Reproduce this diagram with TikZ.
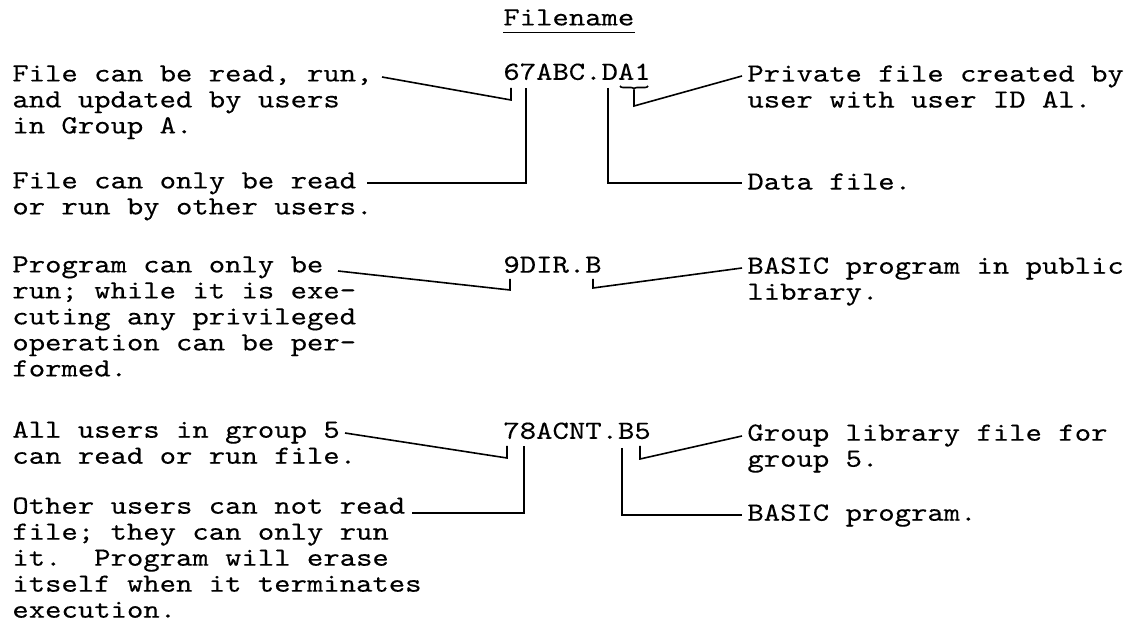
\documentclass[tikz,border=0pt]{standalone}
\usepackage{fontspec}
\usetikzlibrary{decorations.pathreplacing}
\newfontfamily\typer{lmmono10-regular.otf}[FakeStretch=1.19, FakeBold=0.25]
\tikzstyle{note}=[inner sep=0pt, anchor=north west, align=left, font={\typer\fontsize{13.1pt}{13pt}\selectfont\frenchspacing}]
\tikzstyle{lead}=[line width=0.8pt]
\newcommand{\note}{\node[note]}

\begin{document}
\begin{tikzpicture}[x=0.5pt, y=-0.5pt]
\useasboundingbox[fill=white] (0,0) rectangle (1130,630);
% file names
\note (fn) at (503,9) {Filename};
\draw[lead] ([yshift=-3.5pt]fn.base west) -- ([yshift=-3.5pt]fn.base east);
\note (f1) at (503,63) {67ABC.DA1};
\note (f2) at (503,256) {9DIR.B};
\note (f3) at (503,422) {78ACNT.B5};
% left notes
\note (la) at (12,65) {File can be read, run,\\and updated by users\\in Group A.};
\note (lb) at (12,172) {File can only be read\\or run by other users.};
\note (lc) at (12,256) {Program can only be\\run; while it is exe-\\cuting any privileged\\operation can be per-\\formed.};
\note (ld) at (12,421) {All users in group 5\\can read or run file.};
\note (le) at (12,497) {Other users can not read\\file; they can only run\\it.\ \ Program will erase\\itself when it terminates\\execution.};
% right notes
\note (ra) at (747,65) {Private file created by\\user with user ID Al.};
\note (rb) at (747,173) {Data file.};
\note (rc) at (747,257) {BASIC program in public\\library.};
\note (rd) at (747,424) {Group library file for\\group 5.};
\note (re) at (747,504) {BASIC program.};
% leader ends
\coordinate (a0) at (382,77); \coordinate (a1) at (511,100); \coordinate (a2) at (511,88);
\coordinate (b0) at (367,183); \coordinate (b1) at (526,183); \coordinate (b2) at (526,88);
\coordinate (s1) at (648,86); \coordinate (s2) at (620,86);
\coordinate (c0) at (634,90); \coordinate (c1) at (634,106); \coordinate (c2) at (742,76);
\coordinate (d0) at (608,88); \coordinate (d1) at (608,183); \coordinate (d2) at (742,183);
\coordinate (e0) at (338,271); \coordinate (e1) at (510,290); \coordinate (e2) at (510,279);
\coordinate (h0) at (593,279); \coordinate (h1) at (593,288); \coordinate (h2) at (742,268);
\coordinate (g0) at (345,433); \coordinate (g1) at (507,458); \coordinate (g2) at (507,446);
\coordinate (k0) at (412,513); \coordinate (k1) at (524,513); \coordinate (k2) at (524,446);
\coordinate (m0) at (640,446); \coordinate (m1) at (640,459); \coordinate (m2) at (742,436);
\coordinate (n0) at (622,448); \coordinate (n1) at (622,515); \coordinate (n2) at (742,515);
% leaders
\draw[lead] (a0) -- (a1) -- (a2);
\draw[lead] (b0) -- (b1) -- (b2);
\draw[lead, decorate, decoration={brace, amplitude=1.5pt}] (s1) -- (s2);
\draw[lead] (c0) -- (c1) -- (c2);
\draw[lead] (d0) -- (d1) -- (d2);
\draw[lead] (e0) -- (e1) -- (e2);
\draw[lead] (h0) -- (h1) -- (h2);
\draw[lead] (g0) -- (g1) -- (g2);
\draw[lead] (k0) -- (k1) -- (k2);
\draw[lead] (m0) -- (m1) -- (m2);
\draw[lead] (n0) -- (n1) -- (n2);
\end{tikzpicture}
\end{document}
